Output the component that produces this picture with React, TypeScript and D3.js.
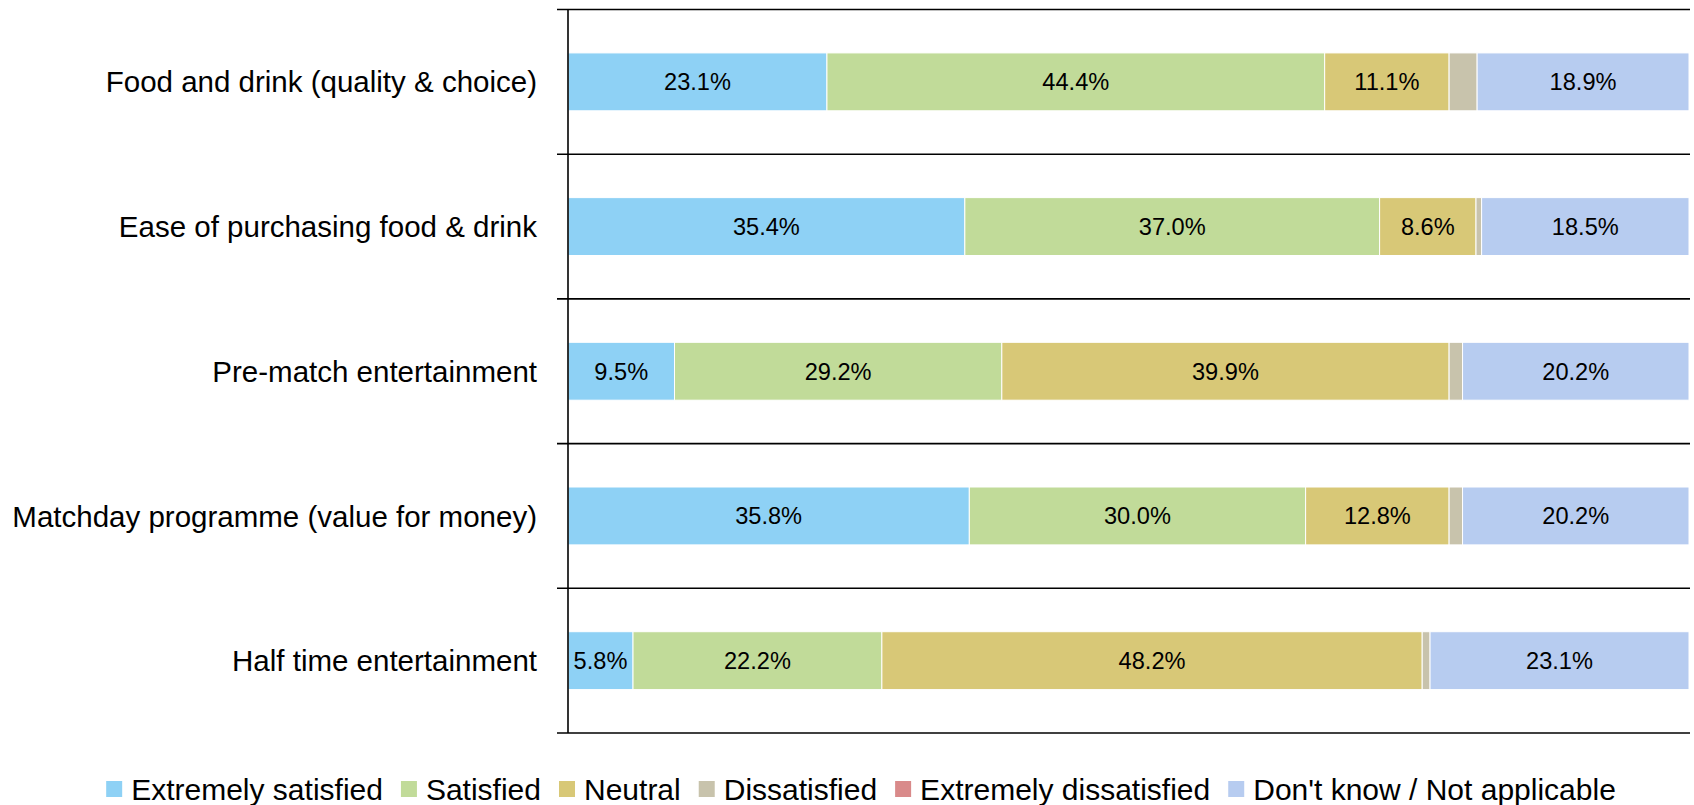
import React, { useEffect, useRef } from "react";
import * as d3 from "d3";

const categories = [
  "Food and drink (quality & choice)",
  "Ease of purchasing food & drink",
  "Pre-match entertainment",
  "Matchday programme (value for money)",
  "Half time entertainment",
];

const seriesNames = [
  "Extremely satisfied",
  "Satisfied",
  "Neutral",
  "Dissatisfied",
  "Extremely dissatisfied",
  "Don't know / Not applicable",
];

const extremelySatisfied = [23.1, 35.4, 9.5, 35.8, 5.8];
const satisfied = [44.4, 37.0, 29.2, 30.0, 22.2];
const neutral = [11.1, 8.6, 39.9, 12.8, 48.2];
const dissatisfied = [2.5, 0.5, 1.2, 1.2, 0.7];
const extremelyDissatisfied = [0, 0, 0, 0, 0];
const dontKnow = [18.9, 18.5, 20.2, 20.2, 23.1];

const seriesValues = [
  extremelySatisfied,
  satisfied,
  neutral,
  dissatisfied,
  extremelyDissatisfied,
  dontKnow,
];

const colors = ["#8ED1F5", "#C1DB99", "#D8C877", "#C8C3AC", "#D98A8A", "#B7CCF0"];
const showLabel = [true, true, true, false, false, true];

const W = 1694;
const H = 805;
const FONT = "'Liberation Sans', Arial, sans-serif";

export default function App() {
  const ref = useRef<SVGSVGElement | null>(null);

  useEffect(() => {
    const svg = d3.select(ref.current);
    svg.selectAll("*").remove();

    const left = 568;
    const right = 1689;
    const top = 9.5;
    const bottom = 733;

    const x = d3.scaleLinear().domain([0, 100]).range([left, right]);
    const y = d3.scaleBand<string>().domain(categories).range([top, bottom]).padding(0);
    const bw = y.bandwidth();
    const barH = bw * 0.4;

    const rows = categories.map((c, i) => {
      const obj: any = { cat: c };
      seriesNames.forEach((s, j) => (obj[s] = seriesValues[j][i]));
      return obj;
    });
    const stack = d3.stack<any>().keys(seriesNames)(rows);

    const g = svg.append("g");

    stack.forEach((layer, j) => {
      layer.forEach((d, i) => {
        const w = x(d[1]) - x(d[0]);
        if (w <= 0) return;
        const yy = (y(categories[i]) as number) + (bw - barH) / 2;
        g.append("rect")
          .attr("x", x(d[0]))
          .attr("y", yy)
          .attr("width", w)
          .attr("height", barH)
          .attr("fill", colors[j])
          .attr("stroke", "#ffffff")
          .attr("stroke-width", 1);
        if (showLabel[j] && seriesValues[j][i] >= 3) {
          g.append("text")
            .attr("x", (x(d[0]) + x(d[1])) / 2)
            .attr("y", yy + barH / 2)
            .attr("dy", "0.36em")
            .attr("text-anchor", "middle")
            .attr("font-family", FONT)
            .attr("font-size", 23.6)
            .attr("fill", "#000")
            .text(seriesValues[j][i].toFixed(1) + "%");
        }
      });
    });

    // gridlines / ticks at band boundaries
    const bounds = categories.map((c) => y(c) as number).concat([bottom]);
    bounds.forEach((b) => {
      g.append("line")
        .attr("x1", 557)
        .attr("x2", 1690)
        .attr("y1", b)
        .attr("y2", b)
        .attr("stroke", "#000")
        .attr("stroke-width", 1.6);
    });
    g.append("line")
      .attr("x1", left)
      .attr("x2", left)
      .attr("y1", top)
      .attr("y2", bottom)
      .attr("stroke", "#000")
      .attr("stroke-width", 1.6);

    // category labels
    categories.forEach((c) => {
      g.append("text")
        .attr("x", 537)
        .attr("y", (y(c) as number) + bw / 2)
        .attr("dy", "0.36em")
        .attr("text-anchor", "end")
        .attr("font-family", FONT)
        .attr("font-size", 29.5)
        .attr("fill", "#000")
        .text(c);
    });

    // legend
    const lg = svg.append("g");
    const items = seriesNames.map((s, j) => {
      const it = lg.append("g");
      it.append("rect").attr("width", 16).attr("height", 16).attr("y", -8).attr("fill", colors[j]);
      const t = it
        .append("text")
        .attr("x", 25)
        .attr("dy", "0.36em")
        .attr("font-family", FONT)
        .attr("font-size", 30)
        .attr("fill", "#000")
        .text(s);
      const tw = (t.node() as SVGTextElement).getComputedTextLength();
      return { it, w: 25 + tw };
    });
    const gap = 18;
    const total = d3.sum(items, (d) => d.w) + gap * (items.length - 1);
    let cx = 861 - total / 2;
    items.forEach((d) => {
      d.it.attr("transform", `translate(${cx},789)`);
      cx += d.w + gap;
    });
  }, []);

  return (
    <svg
      ref={ref}
      width={W}
      height={H}
      style={{ position: "absolute", left: 0, top: 0, background: "#fff" }}
    />
  );
}
